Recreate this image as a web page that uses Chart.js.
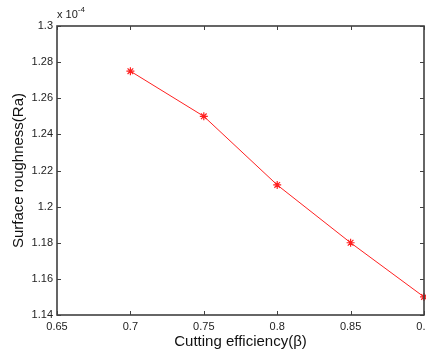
<!DOCTYPE html>
<html>
<head>
<meta charset="utf-8">
<script src="https://cdn.jsdelivr.net/npm/chart.js@4.4.0/dist/chart.umd.min.js"></script>
<style>
  html, body { margin: 0; padding: 0; background: #fff; overflow: hidden; }
  #wrap { position: relative; width: 446px; height: 356px; }
</style>
</head>
<body>
<div id="wrap"><canvas id="myChart" width="446" height="356"></canvas></div>
<script>
  // values (roughness in units of 1e-4)
  const efficiency = [0.7, 0.75, 0.8, 0.85, 0.9];
  const roughness = [1.275, 1.25, 1.212, 1.18, 1.15];

  const xTicks = [0.65, 0.7, 0.75, 0.8, 0.85, 0.9];
  const yTicks = [1.14, 1.16, 1.18, 1.2, 1.22, 1.24, 1.26, 1.28, 1.3];

  const axisColor = "#404040";
  const font = "'Liberation Sans', Arial, sans-serif";

  function fmt(v) {
    return String(parseFloat(v.toFixed(4)));
  }

  // box + inward ticks, matlab style, and the x10^-4 multiplier
  const boxPlugin = {
    id: "boxPlugin",
    afterDraw(chart) {
      const ctx = chart.ctx;
      const a = chart.chartArea;
      const xs = chart.scales.x;
      const ys = chart.scales.y;
      const len = 4;
      ctx.save();
      ctx.strokeStyle = axisColor;
      ctx.lineWidth = 1;
      ctx.beginPath();
      xTicks.forEach(function (v) {
        const px = Math.round(xs.getPixelForValue(v)) + 0.5;
        ctx.moveTo(px, a.bottom);
        ctx.lineTo(px, a.bottom - len);
        ctx.moveTo(px, a.top);
        ctx.lineTo(px, a.top + len);
      });
      yTicks.forEach(function (v) {
        const py = Math.round(ys.getPixelForValue(v)) + 0.5;
        ctx.moveTo(a.left, py);
        ctx.lineTo(a.left + len, py);
        ctx.moveTo(a.right, py);
        ctx.lineTo(a.right - len, py);
      });
      ctx.stroke();
      ctx.lineWidth = 1.6;
      ctx.strokeRect(a.left, a.top, a.right - a.left, a.bottom - a.top);

      ctx.fillStyle = "#222";
      ctx.textBaseline = "alphabetic";
      ctx.textAlign = "left";
      ctx.font = "11px " + font;
      ctx.fillText("x 10", a.left, a.top - 8);
      const w = ctx.measureText("x 10").width;
      ctx.font = "8px " + font;
      ctx.fillText("-4", a.left + w, a.top - 14);
      ctx.restore();
    },
  };

  new Chart(document.getElementById("myChart"), {
    type: "line",
    data: {
      datasets: [
        {
          label: "Ra",
          data: efficiency.map(function (x, i) { return { x: x, y: roughness[i] }; }),
          borderColor: "#ff2020",
          backgroundColor: "#ff2020",
          borderWidth: 1,
          pointStyle: "star",
          pointRadius: 4,
          pointBorderWidth: 1.2,
          pointBorderColor: "#ff2020",
          tension: 0,
          clip: false,
        },
      ],
    },
    options: {
      responsive: false,
      animation: false,
      layout: { padding: { left: 0, top: 26, right: 22, bottom: 0 } },
      plugins: { legend: { display: false }, tooltip: { enabled: false } },
      scales: {
        x: {
          type: "linear",
          min: 0.65,
          max: 0.9,
          afterBuildTicks(scale) { scale.ticks = xTicks.map(function (v) { return { value: v }; }); },
          afterFit(scale) { scale.height = 41; },
          grid: { display: false, drawTicks: false },
          border: { display: false },
          ticks: {
            padding: 5,
            maxRotation: 0,
            autoSkip: false,
            color: "#222",
            font: { family: font, size: 11 },
            callback: function (v) { return fmt(v); },
          },
          title: {
            display: true,
            text: "Cutting efficiency(\u03b2)",
            color: "#111",
            font: { family: font, size: 15 },
            padding: { top: 0, bottom: 5 },
          },
        },
        y: {
          type: "linear",
          min: 1.14,
          max: 1.3,
          afterBuildTicks(scale) { scale.ticks = yTicks.map(function (v) { return { value: v }; }); },
          afterFit(scale) { scale.width = 57; },
          grid: { display: false, drawTicks: false },
          border: { display: false },
          ticks: {
            padding: 4,
            autoSkip: false,
            color: "#222",
            font: { family: font, size: 11 },
            callback: function (v) { return fmt(v); },
          },
          title: {
            display: true,
            text: "Surface roughness(Ra)",
            color: "#111",
            font: { family: font, size: 15 },
            padding: { top: 10, bottom: 0 },
          },
        },
      },
    },
    plugins: [boxPlugin],
  });
</script>
</body>
</html>
